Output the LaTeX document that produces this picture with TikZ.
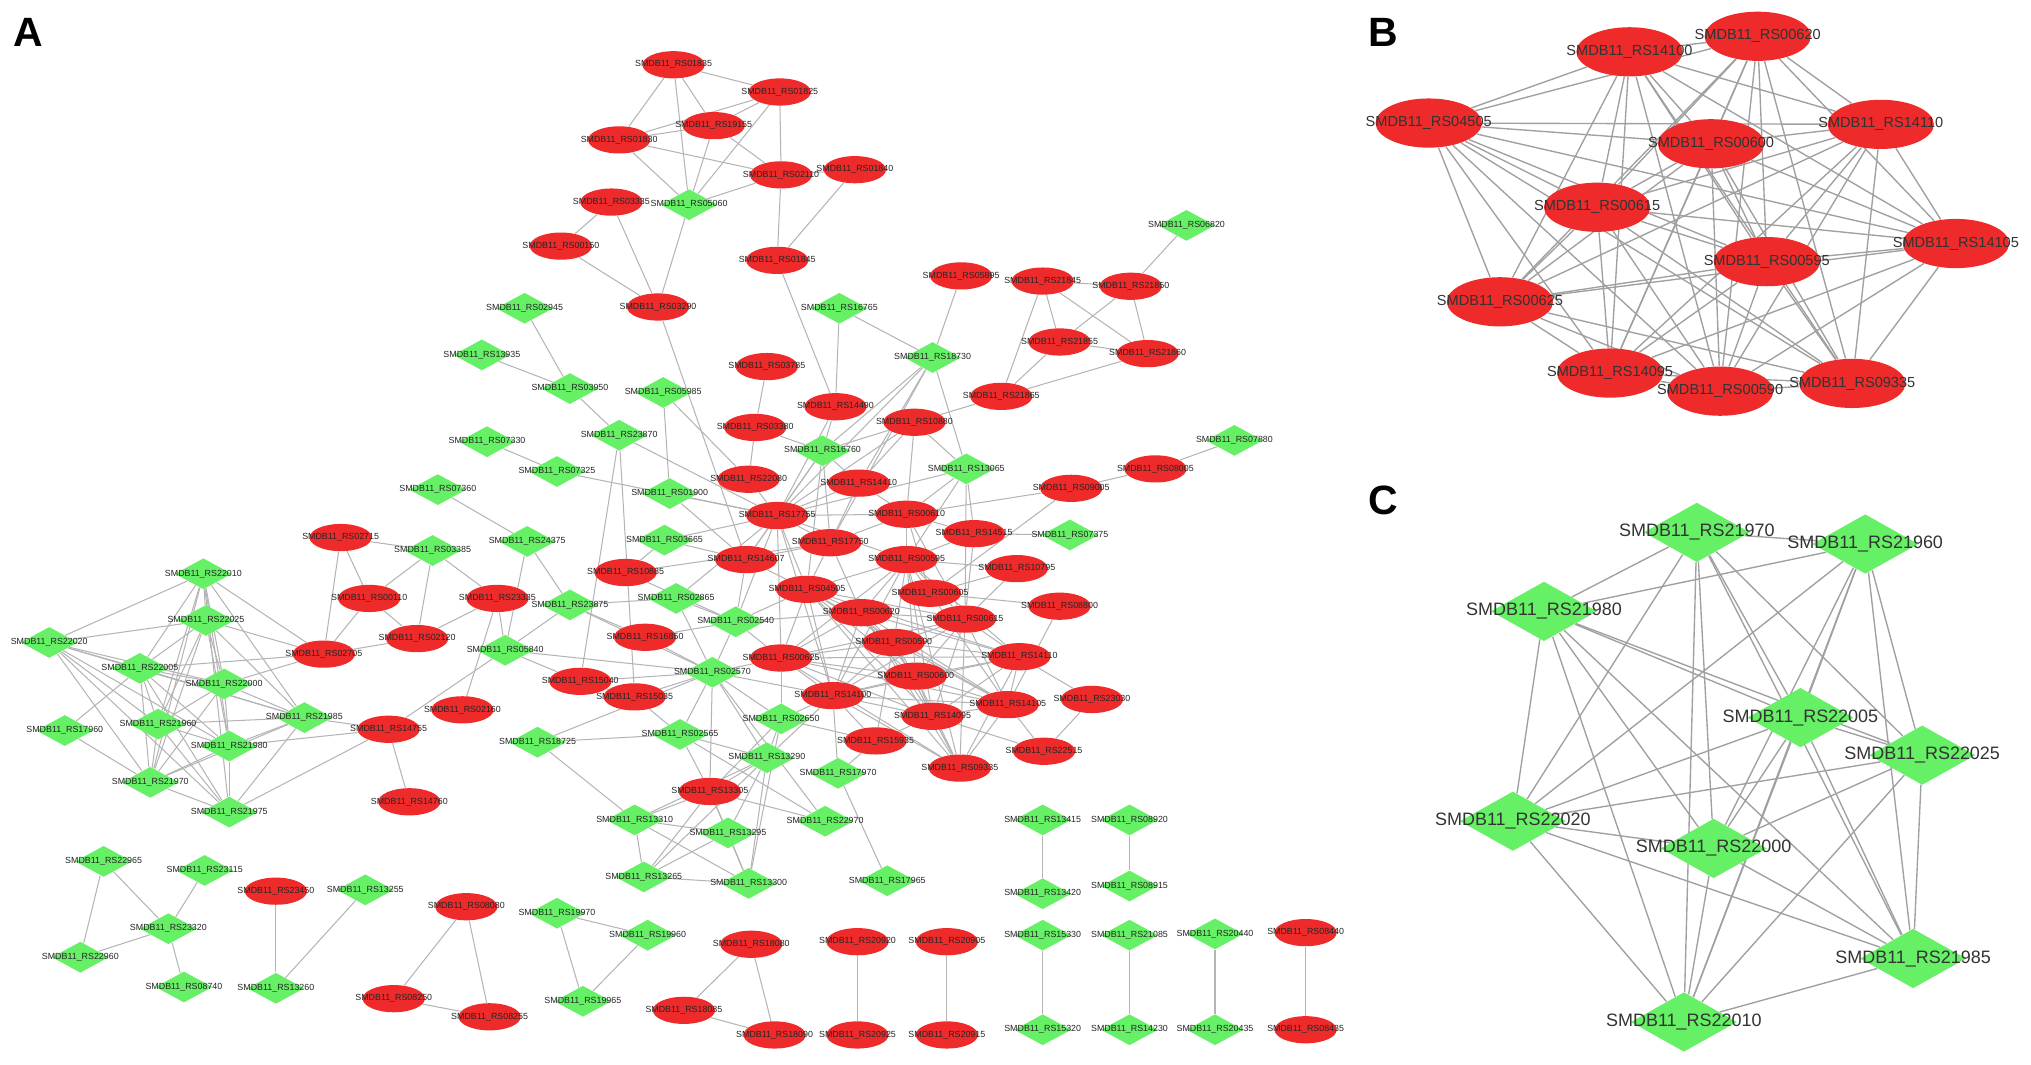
\documentclass[tikz,border=0pt]{standalone}
\usepackage{fontspec}
\setmainfont{Liberation Sans}
\usetikzlibrary{shapes.geometric,backgrounds}
\definecolor{nodered}{RGB}{238,42,42}
\definecolor{nodegreen}{RGB}{102,240,102}
\definecolor{edgegray}{RGB}{180,180,180}
\definecolor{edgegrayB}{RGB}{160,160,160}
\tikzset{
  rA/.style={ellipse,fill=nodered,draw=none,minimum width=0.96cm,minimum height=0.42cm,inner sep=0pt},
  gA/.style={diamond,fill=nodegreen,draw=none,minimum width=0.88cm,minimum height=0.48cm,inner sep=0pt},
  tA/.style={font=\fontsize{3.9}{4}\selectfont,text=black!85,inner sep=0pt},
  rB/.style={ellipse,fill=nodered,draw=none,minimum width=1.64cm,minimum height=0.76cm,inner sep=0pt},
  tB/.style={font=\fontsize{6.4}{7}\selectfont,text=black!80,inner sep=0pt},
  gC/.style={diamond,fill=nodegreen,draw=none,minimum width=1.64cm,minimum height=0.92cm,inner sep=0pt},
  tC/.style={font=\fontsize{7.9}{9}\selectfont,text=black!80,inner sep=0pt},
  edgeA/.style={draw=edgegray,line width=0.45pt},
  edgeB/.style={draw=edgegrayB,line width=0.6pt},
  panellabel/.style={font=\fontsize{18}{20}\selectfont\bfseries,inner sep=0pt}
}
\newcommand\RA[3]{\node[rA,label={[tA]center:SMDB11\_RS#3}] (#1) at (#2) {};}
\newcommand\GA[3]{\node[gA,label={[tA]center:SMDB11\_RS#3}] (#1) at (#2) {};}
\newcommand\RB[3]{\node[rB,label={[tB]center:SMDB11\_RS#3}] (#1) at (#2) {};}
\newcommand\GC[3]{\node[gC,label={[tC]center:SMDB11\_RS#3}] (#1) at (#2) {};}
\begin{document}
\begin{tikzpicture}[x=0.02cm,y=-0.02cm]
\useasboundingbox (0,0) rectangle (1568,822);
% panel labels
\node[panellabel] (labA) at (22,25) {A};
\node[panellabel] (labB) at (1068,25) {B};
\node[panellabel] (labC) at (1068,386) {C};
% ---------------- Panel A nodes ----------------
\RA{a1}{520,50}{01835}
\RA{a2}{602,71}{01825}
\RA{a3}{551,97}{19155}
\RA{a4}{478,108}{01830}
\RA{a5}{603,135}{02110}
\RA{a6}{660,131}{01840}
\RA{a7}{472,156}{03335}
\GA{a8}{532,158}{05060}
\RA{a9}{433,190}{00150}
\RA{a10}{600,201}{01845}
\RA{a11}{508,237}{03290}
\GA{b1}{916,174}{06820}
\RA{b2}{742,213}{05895}
\RA{b3}{805,217}{21845}
\RA{b4}{873,221}{21850}
\RA{b5}{818,264}{21855}
\RA{b6}{886,273}{21860}
\GA{b7}{720,276}{18730}
\RA{b8}{773,306}{21865}
\GA{c1}{405,238}{02945}
\GA{c2}{648,238}{16765}
\GA{c3}{372,274}{13935}
\RA{c4}{592,283}{03785}
\GA{c5}{440,300}{03950}
\GA{c6}{512,303}{05985}
\RA{c7}{645,314}{14490}
\RA{c8}{583,330}{03380}
\RA{c9}{706,326}{10880}
\GA{c10}{478,336}{23870}
\GA{c11}{376,341}{07330}
\GA{c12}{953,340}{07880}
\GA{c13}{635,348}{16760}
\GA{c14}{430,364}{07325}
\RA{c15}{578,370}{22080}
\RA{c16}{663,373}{14410}
\GA{c17}{746,362}{13065}
\RA{c18}{892,362}{08005}
\RA{c19}{827,377}{09005}
\GA{c20}{338,378}{07360}
\GA{c21}{517,381}{01900}
\RA{c22}{600,398}{17755}
\RA{c23}{700,397}{00610}
\RA{c24}{752,412}{14515}
\GA{c25}{826,413}{07375}
\RA{c26}{263,415}{02715}
\GA{c27}{334,425}{03385}
\GA{c28}{407,418}{24375}
\GA{c29}{513,417}{03665}
\RA{c30}{641,419}{17750}
\RA{c31}{576,432}{14607}
\RA{c32}{700,432}{00595}
\RA{c33}{483,442}{10885}
\RA{c34}{785,439}{10795}
\GA{c35}{157,443}{22010}
\RA{c36}{285,462}{00110}
\RA{c37}{384,462}{23335}
\RA{c38}{623,455}{04505}
\RA{c39}{718,458}{00605}
\GA{c40}{522,462}{02865}
\GA{c41}{440,467}{23875}
\RA{c42}{665,473}{00620}
\RA{c43}{818,468}{08800}
\GA{c44}{159,479}{22025}
\RA{c45}{322,493}{02120}
\RA{c46}{745,478}{00615}
\RA{c47}{498,492}{16850}
\GA{c48}{568,480}{02540}
\RA{c49}{690,496}{00590}
\GA{c50}{38,496}{22020}
\GA{c51}{108,516}{22005}
\RA{c52}{250,505}{02705}
\GA{c53}{390,502}{05840}
\RA{c54}{603,508}{00625}
\RA{c55}{787,507}{14110}
\RA{c56}{707,522}{00600}
\RA{c57}{448,526}{15040}
\GA{c58}{173,528}{22000}
\GA{c59}{550,519}{02570}
\RA{c60}{490,538}{15035}
\RA{c61}{643,537}{14100}
\RA{c62}{778,544}{14105}
\RA{c63}{843,540}{23030}
\RA{c64}{357,548}{02160}
\GA{c65}{235,554}{21985}
\RA{c66}{300,563}{14755}
\GA{c67}{122,559}{21960}
\GA{c68}{50,564}{17960}
\GA{c69}{603,555}{02650}
\RA{c70}{720,553}{14095}
\GA{c71}{525,567}{02565}
\GA{c72}{415,573}{18725}
\GA{c73}{177,576}{21980}
\RA{c74}{676,572}{15935}
\RA{c75}{806,580}{22515}
\GA{c76}{592,585}{13290}
\RA{c77}{741,593}{09335}
\GA{c78}{647,597}{17970}
\GA{c79}{116,604}{21970}
\GA{c80}{177,627}{21975}
\RA{c81}{548,611}{13305}
\RA{c82}{316,619}{14760}
\GA{c83}{490,633}{13310}
\GA{c84}{637,634}{22970}
\GA{c85}{562,643}{13295}
\GA{c86}{805,633}{13415}
\GA{c87}{872,633}{08920}
\GA{c88}{80,665}{22965}
\GA{c89}{158,672}{23115}
\GA{c90}{497,677}{13265}
\GA{c91}{578,682}{13300}
\GA{c92}{685,680}{17965}
\GA{c93}{805,690}{13420}
\GA{c94}{872,684}{08915}
\RA{c95}{213,688}{23450}
\GA{c96}{282,687}{13255}
\RA{c97}{360,700}{08080}
\GA{c98}{430,705}{19970}
\GA{c99}{130,717}{23320}
\GA{c100}{500,722}{19960}
\RA{c101}{580,729}{18080}
\RA{c102}{662,727}{20920}
\RA{c103}{731,727}{20905}
\GA{c104}{805,722}{15330}
\GA{c105}{872,722}{21085}
\GA{c106}{938,721}{20440}
\RA{c107}{1008,720}{08440}
\GA{c108}{62,739}{22960}
\GA{c109}{142,762}{08740}
\GA{c110}{213,763}{13260}
\RA{c111}{304,771}{08250}
\GA{c112}{450,773}{19965}
\RA{c113}{378,785}{08255}
\RA{c114}{528,780}{18085}
\RA{c115}{598,799}{18090}
\RA{c116}{662,799}{20925}
\RA{c117}{731,799}{20915}
\GA{c118}{805,795}{15320}
\GA{c119}{872,795}{14230}
\GA{c120}{938,795}{20435}
\RA{c121}{1008,795}{08435}
% ---------------- Panel B nodes ----------------
\RB{pb1}{1258,40}{14100}
\RB{pb2}{1357,28}{00620}
\RB{pb3}{1103,95}{04505}
\RB{pb4}{1452,96}{14110}
\RB{pb5}{1321,111}{00600}
\RB{pb6}{1233,160}{00615}
\RB{pb7}{1510,188}{14105}
\RB{pb8}{1364,202}{00595}
\RB{pb9}{1158,233}{00625}
\RB{pb10}{1243,288}{14095}
\RB{pb11}{1328,302}{00590}
\RB{pb12}{1430,296}{09335}
% ---------------- Panel C nodes ----------------
\GC{pc1}{1310,411}{21970}
\GC{pc2}{1440,420}{21960}
\GC{pc3}{1192,472}{21980}
\GC{pc4}{1390,554}{22005}
\GC{pc5}{1484,583}{22025}
\GC{pc6}{1168,634}{22020}
\GC{pc7}{1323,655}{22000}
\GC{pc8}{1477,740}{21985}
\GC{pc9}{1300,789}{22010}
% ---------------- Edges ----------------
\begin{pgfonlayer}{background}
\fill[white] (0,0) rectangle (1568,822);
\foreach \u/\v in {a1/a2,a1/a4,a1/a3,a1/a8,a2/a3,a2/a4,a2/a8,a2/a5,a4/a3,a4/a5,a4/a8,a3/a8,a3/a5,a5/a8,a5/a6,a5/a10,a6/a10,a7/a9,a7/a11,a8/a11,a9/a11,a11/c31,a10/c7,
  b1/b4,b3/b4,b3/b5,b3/b6,b3/b8,b4/b5,b4/b6,b5/b6,b5/b8,b6/b8,b8/c9,b2/b7,c2/b7,c2/c7,b7/c17,b7/c13,b7/c22,b7/c16,b7/c30,
  c1/c5,c3/c5,c5/c10,c10/c57,c10/c60,c10/c22,c6/c21,c6/c15,c4/c8,c8/c15,c8/c13,c7/c13,c7/c22,c9/c13,c9/c17,c9/c16,c9/c23,c9/c22,c13/c22,c13/c30,c13/c31,c13/c38,c13/c16,
  c11/c14,c14/c22,c20/c28,c28/c53,c28/c41,c21/c22,c21/c31,c29/c22,c29/c31,c29/c33,c15/c22,c16/c22,c16/c23,c16/c30,c17/c23,c17/c24,c17/c46,c17/c32,c17/c22,
  c12/c18,c18/c19,c19/c39,c19/c23,c24/c25,c24/c23,c24/c32,c24/c46,c34/c32,c34/c46,c34/c39,c43/c39,c43/c62,c63/c55,c63/c75,c75/c70,c75/c62,
  c22/c30,c22/c31,c22/c23,c22/c32,c22/c38,c22/c40,c22/c48,c22/c54,c22/c61,c30/c23,c30/c31,c30/c38,c30/c42,c30/c33,c31/c38,c31/c48,c33/c48,c23/c32,c23/c39,c23/c46,
  c48/c40,c48/c47,c48/c54,c48/c59,c48/c38,c48/c42,c59/c47,c59/c60,c59/c57,c59/c54,c59/c71,c59/c69,c59/c61,c59/c76,c59/c81,c59/c41,c59/c53,
  c69/c61,c69/c54,c69/c76,c69/c81,c69/c91,c69/c74,c71/c72,c71/c60,c71/c76,c71/c81,c71/c84,c76/c81,c76/c83,c76/c85,c76/c90,c76/c91,c76/c61,
  c81/c83,c81/c85,c81/c90,c81/c91,c81/c84,c83/c85,c83/c90,c83/c91,c83/c72,c85/c90,c85/c91,c90/c91,c78/c92,c78/c61,c78/c74,c84/c59,c74/c61,c74/c70,c74/c49,
  c41/c53,c41/c47,c41/c40,c40/c59,c57/c60,c57/c53,c72/c59,c53/c66,c66/c82,c37/c64,c37/c53,c37/c45,c26/c27,c26/c36,c26/c52,c27/c36,c27/c45,c27/c37,c36/c52,c36/c45,c52/c45,
  c80/c35,c80/c50,c80/c51,c80/c73,c80/c65,c80/c67,c80/c79,c80/c66,c68/c51,c68/c79,c44/c52,c51/c52,c35/c52,c58/c52,c65/c66,c73/c66,
  c86/c93,c87/c94,c104/c118,c105/c119,c106/c120,c107/c121,c98/c100,c98/c112,c100/c112,c97/c111,c97/c113,c111/c113,c101/c114,c101/c115,c114/c115,c102/c116,c103/c117,
  c88/c108,c88/c99,c89/c99,c99/c108,c99/c109,c95/c110,c96/c110}
  {\draw[edgeA] (\u) -- (\v);}
% central dense clique
\foreach \u [count=\i] in {c61,c42,c38,c55,c56,c46,c62,c54,c32,c70,c49,c77}
  {\foreach \v [count=\j] in {c61,c42,c38,c55,c56,c46,c62,c54,c32,c70,c49,c77}
    {\ifnum\j>\i \draw[edgeA] (\u) -- (\v);\fi}}
% left cluster clique
\foreach \u [count=\i] in {c35,c44,c50,c51,c58,c67,c73,c65,c79}
  {\foreach \v [count=\j] in {c35,c44,c50,c51,c58,c67,c73,c65,c79}
    {\ifnum\j>\i \draw[edgeA] (\u) -- (\v);\fi}}
% panel B clique
\foreach \i in {1,...,12}
  {\foreach \j in {1,...,12}
    {\ifnum\j>\i \draw[edgeB] (pb\i) -- (pb\j);\fi}}
% panel C clique
\foreach \i in {1,...,9}
  {\foreach \j in {1,...,9}
    {\ifnum\j>\i \draw[edgeB] (pc\i) -- (pc\j);\fi}}
\end{pgfonlayer}
\end{tikzpicture}
\end{document}
